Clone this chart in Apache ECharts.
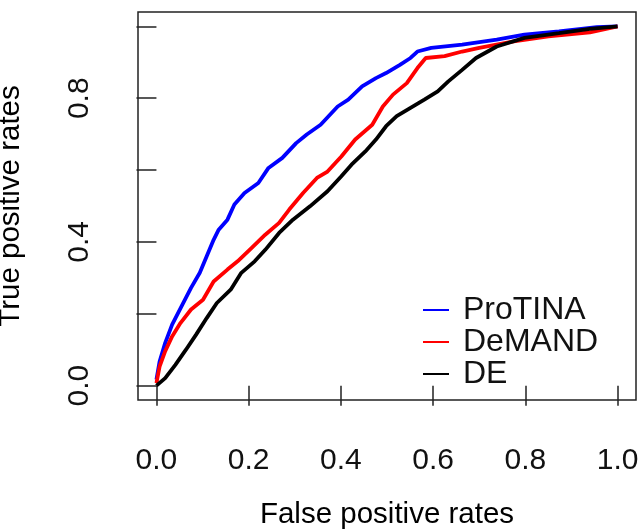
<!DOCTYPE html>
<html>
<head>
<meta charset="utf-8">
<script src="https://cdn.jsdelivr.net/npm/echarts@6/dist/echarts.min.js"></script>
<style>
  html, body { margin: 0; padding: 0; background: #fff; }
  #main { width: 639px; height: 529px; }
</style>
</head>
<body>
<div id="main"></div>
<script>
// ROC curves
const seriesNames = ['ProTINA', 'DeMAND', 'DE']
const seriesColors = ['#0000ff', '#ff0000', '#000000']

const protinaFpr = [0, 0.007, 0.019, 0.034, 0.056, 0.075, 0.094, 0.109, 0.124, 0.135, 0.154, 0.169, 0.191, 0.221, 0.243, 0.273, 0.303, 0.326, 0.356, 0.393, 0.416, 0.446, 0.476, 0.498, 0.528, 0.551, 0.566, 0.596, 0.663, 0.738, 0.798, 0.873, 0.955, 1]
const protinaTpr = [0.017, 0.068, 0.119, 0.17, 0.225, 0.272, 0.314, 0.36, 0.406, 0.434, 0.462, 0.504, 0.536, 0.564, 0.606, 0.634, 0.675, 0.699, 0.726, 0.777, 0.796, 0.833, 0.856, 0.87, 0.893, 0.912, 0.93, 0.94, 0.949, 0.963, 0.977, 0.986, 0.998, 1]

const demandFpr = [0, 0.007, 0.019, 0.034, 0.052, 0.075, 0.101, 0.124, 0.154, 0.176, 0.206, 0.236, 0.266, 0.288, 0.318, 0.348, 0.371, 0.401, 0.431, 0.468, 0.491, 0.513, 0.543, 0.566, 0.584, 0.625, 0.663, 0.7, 0.775, 0.85, 0.94, 1]
const demandTpr = [0.007, 0.054, 0.096, 0.137, 0.174, 0.212, 0.239, 0.29, 0.323, 0.346, 0.383, 0.42, 0.453, 0.49, 0.536, 0.578, 0.596, 0.638, 0.685, 0.726, 0.777, 0.81, 0.842, 0.884, 0.912, 0.917, 0.93, 0.94, 0.958, 0.972, 0.983, 1]

const deFpr = [0, 0.019, 0.041, 0.064, 0.086, 0.109, 0.131, 0.161, 0.184, 0.213, 0.236, 0.266, 0.296, 0.333, 0.371, 0.401, 0.423, 0.453, 0.476, 0.498, 0.521, 0.551, 0.581, 0.61, 0.633, 0.663, 0.693, 0.738, 0.798, 0.873, 0.94, 1]
const deTpr = [0, 0.021, 0.058, 0.1, 0.142, 0.188, 0.23, 0.267, 0.314, 0.346, 0.378, 0.425, 0.462, 0.499, 0.541, 0.583, 0.615, 0.652, 0.685, 0.722, 0.75, 0.773, 0.796, 0.819, 0.847, 0.879, 0.912, 0.944, 0.968, 0.981, 0.993, 1]

const xTicks = [0, 0.2, 0.4, 0.6, 0.8, 1.0]
const yTicks = [0, 0.2, 0.4, 0.6, 0.8, 1.0]
const yLabels = [0, 0.4, 0.8]

const font = 'Liberation Sans, Arial, Helvetica, sans-serif'

function pairs (xs, ys) {
  return xs.map((x, i) => [x, ys[i]])
}

const curves = [
  pairs(protinaFpr, protinaTpr),
  pairs(demandFpr, demandTpr),
  pairs(deFpr, deTpr)
]

const chart = echarts.init(document.getElementById('main'))
chart.setOption({
  animation: false,
  backgroundColor: '#fff',
  grid: {
    left: 138,
    right: 3,
    top: 12,
    bottom: 129,
    outerBoundsMode: 'none',
    containLabel: false,
    show: true,
    borderColor: '#222',
    borderWidth: 1.5,
    backgroundColor: 'transparent'
  },
  legend: {
    orient: 'vertical',
    left: 423,
    top: 294,
    padding: 0,
    itemWidth: 26,
    itemHeight: 2,
    itemGap: 0,
    icon: 'rect',
    data: seriesNames,
    textStyle: {
      fontFamily: font,
      fontSize: 32,
      color: '#111',
      lineHeight: 28,
      padding: [0, 0, 0, 9]
    }
  },
  xAxis: {
    type: 'value',
    min: -0.04,
    max: 1.04,
    name: 'False positive rates',
    nameLocation: 'middle',
    nameGap: 100,
    nameTextStyle: { fontFamily: font, fontSize: 29.5, color: '#000' },
    axisLine: { show: false },
    splitLine: { show: false },
    axisTick: {
      show: true,
      inside: false,
      length: 20,
      customValues: xTicks,
      lineStyle: { color: '#222', width: 1.5 }
    },
    axisLabel: {
      customValues: xTicks,
      margin: 46,
      fontFamily: font,
      fontSize: 30,
      color: '#111',
      formatter: v => v.toFixed(1)
    }
  },
  yAxis: {
    type: 'value',
    min: -0.04,
    max: 1.04,
    name: 'True positive rates',
    nameLocation: 'middle',
    nameGap: 112,
    nameTextStyle: { fontFamily: font, fontSize: 29.5, color: '#000' },
    axisLine: { show: false },
    splitLine: { show: false },
    axisTick: {
      show: true,
      inside: false,
      length: 20,
      customValues: yTicks,
      lineStyle: { color: '#222', width: 1.5 }
    },
    axisLabel: {
      customValues: yLabels,
      rotate: 90,
      margin: 43,
      fontFamily: font,
      fontSize: 30,
      color: '#111',
      formatter: v => v.toFixed(1)
    }
  },
  series: curves.map((data, i) => ({
    name: seriesNames[i],
    type: 'line',
    data: data,
    showSymbol: false,
    symbol: 'none',
    color: seriesColors[i],
    lineStyle: { color: seriesColors[i], width: 3.8 },
    z: 2 + i
  }))
})
</script>
</body>
</html>
